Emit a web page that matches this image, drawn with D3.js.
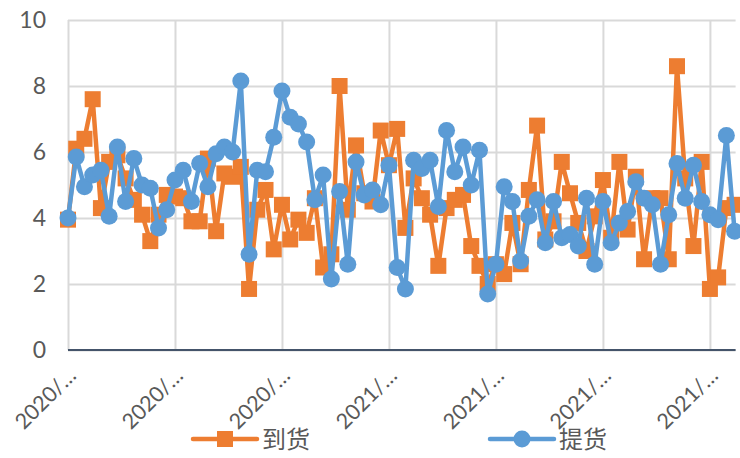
<!DOCTYPE html>
<html>
<head>
<meta charset="utf-8">
<script src="https://cdn.jsdelivr.net/npm/d3@7"></script>
<style>
  html, body { margin: 0; padding: 0; background: #fff; }
  svg { display: block; }
</style>
</head>
<body>
<svg id="chart" width="740" height="458"></svg>
<script>
// Series values (weekly)
const arrivals = [
  3.95,6.1,6.4,7.6,4.3,5.7,5.9,5.2,4.55,4.1,
  3.3,4.1,4.7,4.65,4.6,3.9,3.9,5.8,3.6,5.35,
  5.25,5.55,1.85,4.25,4.85,3.05,4.4,3.35,3.95,3.55,
  4.6,2.5,2.9,8.0,4.25,6.2,4.75,4.5,6.65,5.6,
  6.7,3.7,5.2,4.6,4.1,2.55,4.3,4.55,4.7,3.15,
  2.55,2.0,2.6,2.3,3.85,2.6,4.85,6.8,3.35,3.9,
  5.7,4.75,3.85,3.0,4.05,5.15,3.4,5.7,3.65,5.25,
  2.75,4.6,4.6,2.75,8.6,5.2,3.15,5.7,1.85,2.2,
  4.3,4.4
];
const pickups = [
  4.0,5.85,4.95,5.3,5.45,4.05,6.15,4.5,5.8,5.0,
  4.9,3.7,4.25,5.15,5.45,4.5,5.65,4.95,5.95,6.15,
  6.0,8.15,2.9,5.45,5.4,6.45,7.85,7.05,6.85,6.3,
  4.55,5.3,2.15,4.8,2.6,5.7,4.7,4.85,4.4,5.6,
  2.5,1.85,5.75,5.5,5.75,4.35,6.65,5.4,6.15,5.0,
  6.05,1.7,2.6,4.95,4.5,2.7,4.05,4.55,3.25,4.5,
  3.4,3.5,3.15,4.6,2.6,4.5,3.25,3.85,4.2,5.1,
  4.6,4.4,2.6,4.1,5.65,4.6,5.6,4.5,4.1,3.95,
  6.5,3.6
];
const seriesNames = ["到货", "提货"];
const seriesColors = ["#ED7D31", "#5B9BD5"];
const tickLabels = ["2020/…","2020/…","2020/…","2021/…","2021/…","2021/…","2021/…"];
const labelInterval = 13;
const yTicks = [0, 2, 4, 6, 8, 10];

const categories = d3.range(arrivals.length);

const svg = d3.select("#chart");
const margin = { left: 68, right: 5.4, top: 20, bottom: 108 };
const W = 740, H = 458;

const x = d3.scalePoint().domain(categories).range([margin.left, W - margin.right]);
const y = d3.scaleLinear().domain([0, 10]).range([H - margin.bottom, margin.top]);

const textColor = "#595959";
const gridColor = "#d9d9d9";
const latin = "Lato, 'Open Sans', 'Noto Sans', sans-serif";

// horizontal gridlines and value labels
const yAxis = d3.axisLeft(y).tickValues(yTicks).tickSize(-(W - margin.right - margin.left + 1)).tickPadding(22).tickFormat(d3.format("d"));
const gy = svg.append("g").attr("transform", `translate(${margin.left},0)`).call(yAxis);
gy.select(".domain").remove();
gy.selectAll(".tick line").attr("stroke", gridColor).attr("stroke-width", 2);
gy.selectAll(".tick text").attr("fill", textColor).style("font-family", latin).style("font-size", "23px");

// vertical gridlines at labelled categories
const tickCats = tickLabels.map((_, i) => i * labelInterval);
const xAxis = d3.axisBottom(x).tickValues(tickCats).tickSize(-(y(0) - y(10))).tickPadding(0)
  .tickFormat((d, i) => tickLabels[i]);
const gx = svg.append("g").attr("transform", `translate(0,${y(0)})`).call(xAxis);
gx.select(".domain").remove();
gx.selectAll(".tick line").attr("stroke", gridColor).attr("stroke-width", 2);
gx.selectAll(".tick text")
  .attr("fill", textColor)
  .style("font-family", latin)
  .style("font-size", "21.5px")
  .attr("text-anchor", "end")
  .attr("dy", 0)
  .attr("transform", "translate(9,27) rotate(-45)");

// category axis line
svg.append("line")
  .attr("x1", margin.left).attr("x2", W - margin.right + 1)
  .attr("y1", y(0)).attr("y2", y(0))
  .attr("stroke", "#44546A").attr("stroke-width", 2);

const line = d3.line().x((d, i) => x(i)).y(d => y(d));

function drawSeries(values, color, marker) {
  const g = svg.append("g");
  g.append("path").datum(values)
    .attr("d", line).attr("fill", "none")
    .attr("stroke", color).attr("stroke-width", 4.5).attr("stroke-linejoin", "round");
  if (marker === "square") {
    g.selectAll("rect").data(values).join("rect")
      .attr("x", (d, i) => x(i) - 8).attr("y", d => y(d) - 8)
      .attr("width", 16).attr("height", 16).attr("fill", color);
  } else {
    g.selectAll("circle").data(values).join("circle")
      .attr("cx", (d, i) => x(i)).attr("cy", d => y(d)).attr("r", 8.5).attr("fill", color);
  }
}
drawSeries(arrivals, seriesColors[0], "square");
drawSeries(pickups, seriesColors[1], "circle");

// legend
const legend = svg.append("g");
const legendItems = [
  { name: seriesNames[0], color: seriesColors[0], marker: "square", x0: 193 },
  { name: seriesNames[1], color: seriesColors[1], marker: "circle", x0: 490 }
];
legendItems.forEach(it => {
  const ly = 439;
  legend.append("line").attr("x1", it.x0).attr("x2", it.x0 + 64)
    .attr("y1", ly).attr("y2", ly).attr("stroke", it.color).attr("stroke-width", 4.5).attr("stroke-linecap", "round");
  if (it.marker === "square") {
    legend.append("rect").attr("x", it.x0 + 32 - 8).attr("y", ly - 8).attr("width", 16).attr("height", 16).attr("fill", it.color);
  } else {
    legend.append("circle").attr("cx", it.x0 + 32).attr("cy", ly).attr("r", 8.5).attr("fill", it.color);
  }
  legend.append("text").attr("x", it.x0 + 69).attr("y", ly + 9)
    .attr("fill", textColor)
    .style("font-family", "'Noto Sans CJK SC', sans-serif").style("font-size", "24px")
    .text(it.name);
});
</script>
</body>
</html>
